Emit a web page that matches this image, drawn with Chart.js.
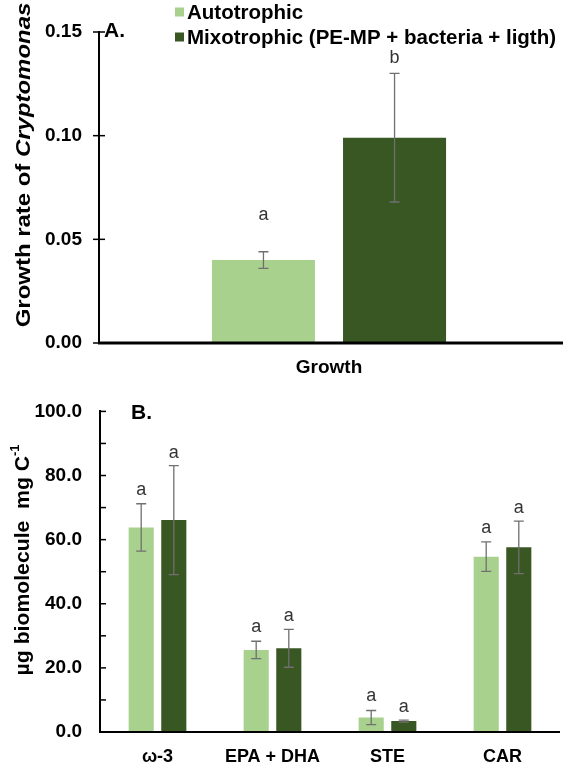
<!DOCTYPE html>
<html>
<head>
<meta charset="utf-8">
<script src="https://cdn.jsdelivr.net/npm/chart.js@4"></script>
<style>
  body { margin: 0; background: #fff; }
  canvas { display: block; }
</style>
</head>
<body>
<canvas id="chartA" width="563" height="382"></canvas>
<canvas id="chartB" width="563" height="385"></canvas>
<script>
const seriesNames = ['Autotrophic', 'Mixotrophic (PE-MP + bacteria + ligth)'];

// panel A
const growthLabels = ['Growth'];
const growthAuto = [0.040];
const growthAutoErr = [0.0040];
const growthMixo = [0.099];
const growthMixoErr = [0.031];
const growthAutoLetters = ['a'];
const growthMixoLetters = ['b'];

// panel B
const bioLabels = ['ω-3', 'EPA + DHA', 'STE', 'CAR'];
const bioAuto = [63.8, 25.6, 4.5, 54.7];
const bioAutoErr = [7.4, 2.7, 2.2, 4.6];
const bioMixo = [66.1, 26.1, 3.4, 57.6];
const bioMixoErr = [17.0, 5.9, 0.3, 8.2];
const bioAutoLetters = ['a', 'a', 'a', 'a'];
const bioMixoLetters = ['a', 'a', 'a', 'a'];

const autoColor = '#A9D18E';
const mixoColor = '#385723';
const FONT = "'Liberation Sans', Arial, sans-serif";
Chart.defaults.font.family = FONT;
Chart.defaults.color = '#000';

// error bars, letters, ticks, titles
const extras = {
  id: 'extras',
  afterDatasetsDraw(chart, args, opts) {
    const ctx = chart.ctx;
    const y = chart.scales.y;
    const area = chart.chartArea;
    ctx.save();

    // error bars
    chart.data.datasets.forEach((ds, di) => {
      const meta = chart.getDatasetMeta(di);
      meta.data.forEach((bar, i) => {
        const v = ds.data[i], e = opts.errors[di][i];
        const top = y.getPixelForValue(v + e);
        const bot = y.getPixelForValue(v - e);
        ctx.strokeStyle = '#707070';
        ctx.lineWidth = 1.3;
        ctx.beginPath();
        ctx.moveTo(bar.x, top); ctx.lineTo(bar.x, bot);
        ctx.moveTo(bar.x - 5, top); ctx.lineTo(bar.x + 5, top);
        ctx.moveTo(bar.x - 5, bot); ctx.lineTo(bar.x + 5, bot);
        ctx.stroke();

        ctx.fillStyle = '#333';
        ctx.font = opts.letterFont;
        ctx.textAlign = 'center';
        ctx.textBaseline = 'middle';
        ctx.fillText(opts.letters[di][i], bar.x, top - opts.letterOffset[di]);
      });
    });

    // tick marks
    ctx.strokeStyle = '#000';
    ctx.lineWidth = 1.5;
    y.ticks.forEach(t => {
      const py = y.getPixelForValue(t.value);
      ctx.beginPath();
      ctx.moveTo(area.left + opts.tickFrom, py);
      ctx.lineTo(area.left + opts.tickTo, py);
      ctx.stroke();
    });

    // x axis line
    ctx.lineWidth = opts.xLineWidth;
    ctx.beginPath();
    ctx.moveTo(area.left - 1, area.bottom);
    ctx.lineTo(opts.xLineEnd, area.bottom);
    ctx.stroke();

    // panel letter
    ctx.fillStyle = '#000';
    ctx.font = 'bold 21px ' + FONT;
    ctx.textAlign = 'left';
    ctx.textBaseline = 'middle';
    ctx.fillText(opts.panel[0], opts.panel[1], opts.panel[2]);

    // y title (stretched along its length like the original)
    ctx.translate(opts.titleX, opts.titleY);
    ctx.rotate(-Math.PI / 2);
    ctx.scale(opts.titleStretch, 1);
    const parts = opts.title;
    let total = 0;
    parts.forEach(p => { ctx.font = p.font; total += ctx.measureText(p.text).width; });
    let x = -total / 2;
    parts.forEach(p => {
      ctx.font = p.font;
      ctx.fillText(p.text, x, p.dy || 0);
      x += ctx.measureText(p.text).width;
    });
    ctx.restore();
  }
};

const legendPlugin = {
  id: 'boxlegend',
  afterDraw(chart, args, opts) {
    if (!opts.show) return;
    const ctx = chart.ctx;
    ctx.save();
    ctx.font = 'bold 20.5px ' + FONT;
    ctx.textBaseline = 'middle';
    chart.data.datasets.forEach((ds, i) => {
      const cy = 12 + i * 25;
      ctx.fillStyle = ds.backgroundColor;
      ctx.fillRect(175, cy - 4.5, 9, 9);
      ctx.fillStyle = '#000';
      ctx.fillText(ds.label, 187, cy + 1);
    });
    ctx.restore();
  }
};

const tickFont = { size: 19, weight: 'bold' };

new Chart(document.getElementById('chartA'), {
  type: 'bar',
  data: {
    labels: growthLabels,
    datasets: [
      { label: seriesNames[0], data: growthAuto, backgroundColor: autoColor },
      { label: seriesNames[1], data: growthMixo, backgroundColor: mixoColor }
    ]
  },
  options: {
    responsive: false,
    animation: false,
    categoryPercentage: 0.57,
    barPercentage: 0.786,
    layout: { padding: { top: 32, right: 4, left: 0, bottom: 0 } },
    plugins: {
      legend: { display: false },
      tooltip: { enabled: false },
      boxlegend: { show: true },
      extras: {
        errors: [growthAutoErr, growthMixoErr],
        letters: [growthAutoLetters, growthMixoLetters],
        letterOffset: [37, 15],
        letterFont: '18px ' + FONT,
        tickFrom: -6, tickTo: 6,
        xLineWidth: 3, xLineEnd: 563,
        panel: ['A.', 104, 31],
        titleX: 24, titleY: 165,
        titleStretch: 1.14,
        title: [
          { text: 'Growth rate of ', font: 'bold 21px ' + FONT },
          { text: 'Cryptomonas', font: 'italic bold 21px ' + FONT }
        ]
      }
    },
    scales: {
      x: {
        grid: { display: false, drawTicks: false },
        border: { display: false },
        ticks: { font: { size: 19, weight: 'bold' }, padding: 13 },
        afterFit: s => { s.height = 39; }
      },
      y: {
        min: 0, max: 0.15,
        grid: { display: false, drawTicks: false },
        border: { display: true, color: '#000', width: 2 },
        ticks: { stepSize: 0.05, font: tickFont, padding: 17, callback: v => v.toFixed(2) },
        afterFit: s => { s.width = 99; }
      }
    }
  },
  plugins: [extras, legendPlugin]
});

new Chart(document.getElementById('chartB'), {
  type: 'bar',
  data: {
    labels: bioLabels,
    datasets: [
      { label: seriesNames[0], data: bioAuto, backgroundColor: autoColor },
      { label: seriesNames[1], data: bioMixo, backgroundColor: mixoColor }
    ]
  },
  options: {
    responsive: false,
    animation: false,
    categoryPercentage: 0.567,
    barPercentage: 0.77,
    layout: { padding: { top: 10, right: 3, left: 0, bottom: 0 } },
    plugins: {
      legend: { display: false },
      tooltip: { enabled: false },
      boxlegend: { show: false },
      extras: {
        errors: [bioAutoErr, bioMixoErr],
        letters: [bioAutoLetters, bioMixoLetters],
        letterOffset: [14, 13],
        letterFont: '18px ' + FONT,
        tickFrom: 0, tickTo: 6,
        xLineWidth: 2, xLineEnd: 560,
        panel: ['B.', 131, 31],
        titleX: 23, titleY: 178,
        titleStretch: 1.06,
        title: [
          { text: 'µg biomolecule  mg C', font: 'bold 20px ' + FONT },
          { text: '-1', font: 'bold 12px ' + FONT, dy: -7 }
        ]
      }
    },
    scales: {
      x: {
        grid: { display: false, drawTicks: false },
        border: { display: false },
        ticks: { font: { size: 18, weight: 'bold' }, padding: 14 },
        afterFit: s => { s.height = 35; }
      },
      y: {
        min: 0, max: 100,
        grid: { display: false, drawTicks: false },
        border: { display: true, color: '#000', width: 2 },
        ticks: {
          stepSize: 10, font: tickFont, padding: 18,
          callback: v => (v % 20 === 0 ? v.toFixed(1) : '')
        },
        afterFit: s => { s.width = 100; }
      }
    }
  },
  plugins: [extras]
});
</script>
</body>
</html>
